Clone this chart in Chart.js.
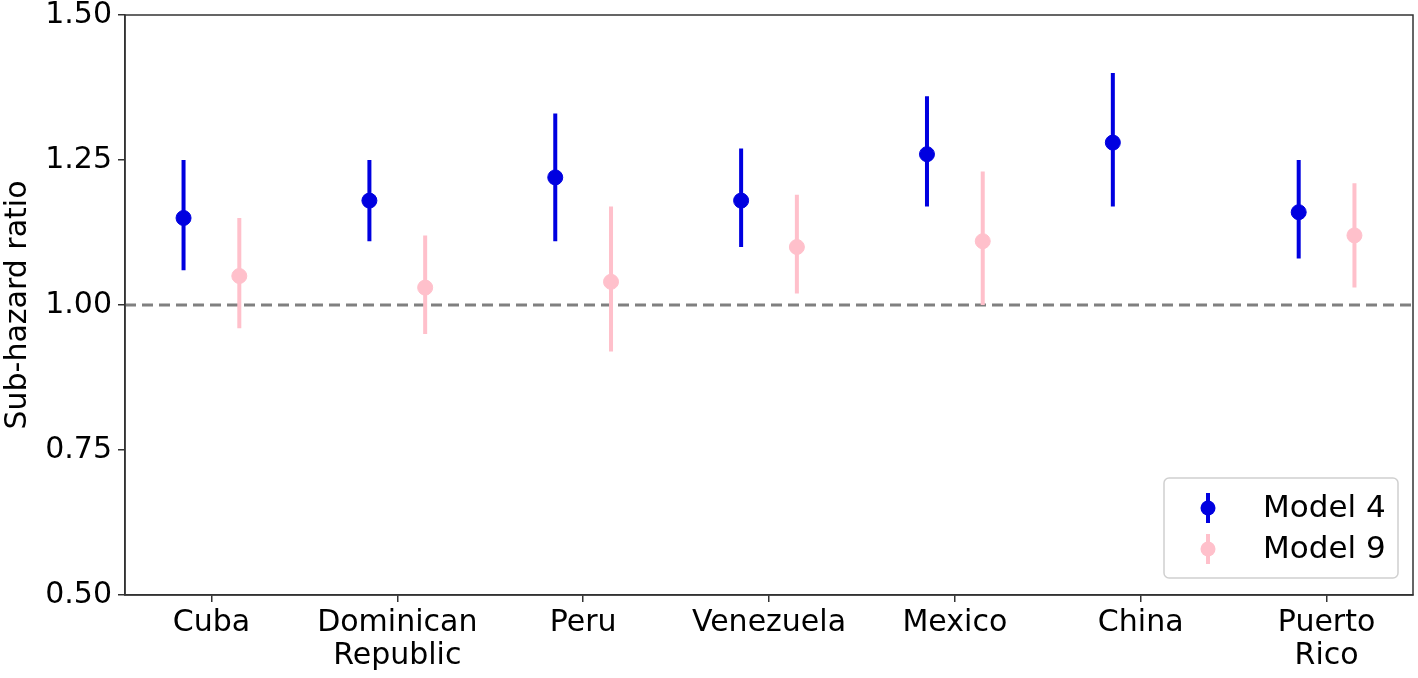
<!DOCTYPE html>
<html lang="en">
<head>
    <meta charset="UTF-8">
    <title>Sub-hazard ratio by country</title>
    <script src="https://cdn.jsdelivr.net/npm/chart.js"></script>
    <style>
        body { margin: 0; background: #ffffff; }
        #wrap { width: 1418px; height: 678px; }
    </style>
</head>
<body>
    <div id="wrap"><canvas id="grafico"></canvas></div>

    <script>
        // Datos
        const countries = [['Cuba'], ['Dominican', 'Republic'], ['Peru'], ['Venezuela'], ['Mexico'], ['China'], ['Puerto', 'Rico']];
        const model4 = [1.15, 1.18, 1.22, 1.18, 1.26, 1.28, 1.16];
        const model4Low = [1.06, 1.11, 1.11, 1.10, 1.17, 1.17, 1.08];
        const model4High = [1.25, 1.25, 1.33, 1.27, 1.36, 1.40, 1.25];
        const model9 = [1.05, 1.03, 1.04, 1.10, 1.11, null, 1.12];
        const model9Low = [0.96, 0.95, 0.92, 1.02, 1.00, null, 1.03];
        const model9High = [1.15, 1.12, 1.17, 1.19, 1.23, null, 1.21];
        const yTicks = [0.50, 0.75, 1.00, 1.25, 1.50];
        const seriesNames = ['Model 4', 'Model 9'];
        const refValue = 1.0;

        const BLUE = '#0000e0';
        const PINK = '#ffc0cb';
        const AXIS = '#333333';
        const FONT = 'DejaVu Sans';
        const shift = 0.15;
        const xMin = -0.465, xMax = countries.length - 1 + 0.465;

        function points(vals, off) {
            const out = [];
            vals.forEach((v, i) => { if (v !== null) out.push({ x: i + off, y: v }); });
            return out;
        }
        function bars(lo, hi, off) {
            const out = [];
            lo.forEach((l, i) => {
                if (l === null) return;
                out.push({ x: i + off, y: l }, { x: i + off, y: hi[i] }, { x: i + off, y: null });
            });
            return out;
        }

        // Marco completo y leyenda al estilo matplotlib
        const extras = {
            id: 'extras',
            afterDraw(chart) {
                const { ctx, chartArea: a } = chart;
                ctx.save();
                ctx.strokeStyle = AXIS;
                ctx.lineWidth = 1.5;
                ctx.strokeRect(a.left, a.top, a.right - a.left, a.bottom - a.top);

                const bw = 234, bh = 100;
                const bx = a.right - 15 - bw, by = a.bottom - 17 - bh;
                ctx.beginPath();
                ctx.roundRect(bx, by, bw, bh, 5);
                ctx.fillStyle = 'rgba(255,255,255,0.85)';
                ctx.fill();
                ctx.strokeStyle = '#d0d0d0';
                ctx.lineWidth = 1.5;
                ctx.stroke();

                [BLUE, PINK].forEach((c, k) => {
                    const cy = by + 30 + k * 41;
                    const cx = bx + 44;
                    ctx.strokeStyle = c;
                    ctx.lineWidth = 4;
                    ctx.beginPath();
                    ctx.moveTo(cx, cy - 15);
                    ctx.lineTo(cx, cy + 15);
                    ctx.stroke();
                    ctx.fillStyle = c;
                    ctx.beginPath();
                    ctx.arc(cx, cy, 7.5, 0, Math.PI * 2);
                    ctx.fill();
                    ctx.fillStyle = '#000000';
                    ctx.font = '31px "' + FONT + '"';
                    ctx.textBaseline = 'middle';
                    ctx.textAlign = 'left';
                    ctx.fillText(seriesNames[k], bx + 99, cy + 1);
                });
                ctx.restore();
            }
        };

        new Chart(document.getElementById('grafico').getContext('2d'), {
            data: {
                datasets: [
                    { type: 'line', label: 'ref', data: [{ x: xMin, y: refValue }, { x: xMax, y: refValue }],
                      borderColor: '#808080', borderWidth: 3, borderDash: [11, 6], pointRadius: 0, order: 5 },
                    { type: 'line', label: seriesNames[0] + ' CI', data: bars(model4Low, model4High, -shift),
                      borderColor: BLUE, borderWidth: 4, pointRadius: 0, spanGaps: false, order: 3 },
                    { type: 'line', label: seriesNames[1] + ' CI', data: bars(model9Low, model9High, shift),
                      borderColor: PINK, borderWidth: 4, pointRadius: 0, spanGaps: false, order: 3 },
                    { type: 'scatter', label: seriesNames[0], data: points(model4, -shift),
                      backgroundColor: BLUE, borderColor: BLUE, pointRadius: 7.5, order: 1 },
                    { type: 'scatter', label: seriesNames[1], data: points(model9, shift),
                      backgroundColor: PINK, borderColor: PINK, pointRadius: 7.5, order: 1 }
                ]
            },
            options: {
                responsive: true,
                maintainAspectRatio: false,
                animation: false,
                layout: { autoPadding: false, padding: { top: 15, right: 5, left: 0, bottom: 0 } },
                plugins: { legend: { display: false }, tooltip: { enabled: false } },
                scales: {
                    x: {
                        type: 'linear',
                        min: xMin,
                        max: xMax,
                        afterBuildTicks: s => { s.ticks = countries.map((c, i) => ({ value: i })); },
                        afterFit: s => { s.height = 83; },
                        ticks: {
                            callback: v => countries[v],
                            color: '#000000',
                            padding: 4,
                            maxRotation: 0,
                            autoSkip: false,
                            font: { family: FONT, size: 30, lineHeight: 1.12 }
                        },
                        grid: { drawOnChartArea: false, drawTicks: true, tickLength: 7, color: AXIS, lineWidth: 1.5 },
                        border: { display: true, color: AXIS, width: 1.5 }
                    },
                    y: {
                        min: 0.5,
                        max: 1.5,
                        afterBuildTicks: s => { s.ticks = yTicks.map(v => ({ value: v })); },
                        afterFit: s => { s.width = 125; s.paddingTop = 0; s.paddingBottom = 0; },
                        ticks: {
                            callback: v => v.toFixed(2),
                            color: '#000000',
                            padding: 6,
                            font: { family: FONT, size: 30, lineHeight: 0.6 }
                        },
                        title: {
                            display: true,
                            text: 'Sub-hazard ratio',
                            color: '#000000',
                            padding: { top: 0, bottom: 0 },
                            font: { family: FONT, size: 30 }
                        },
                        grid: { drawOnChartArea: false, drawTicks: true, tickLength: 7, color: AXIS, lineWidth: 1.5 },
                        border: { display: true, color: AXIS, width: 1.5 }
                    }
                }
            },
            plugins: [extras]
        });
    </script>
</body>
</html>
